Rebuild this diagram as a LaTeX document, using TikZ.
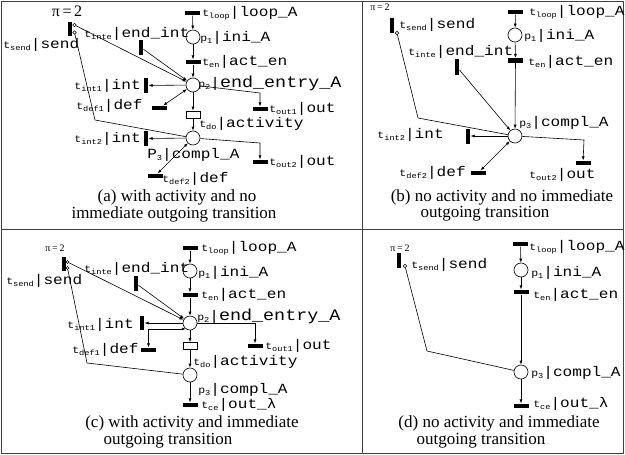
\documentclass[tikz,border=0pt]{standalone}
\usepackage{fontspec}
\setmainfont{Liberation Serif}
\newfontfamily\monofam[FakeStretch=1.15]{Liberation Mono}
\usetikzlibrary{arrows.meta}
\newcommand{\lfont}{\monofam\fontsize{14}{14}\selectfont}
\newcommand{\Lfont}{\monofam\fontsize{16}{16}\selectfont}
\newcommand{\pfont}{\monofam\fontsize{10}{10}\selectfont}
\newcommand{\sfont}{\monofam\fontsize{7.5}{7.5}\selectfont}
\newcommand{\capfont}{\fontsize{17}{19}\selectfont}
\newcommand{\tn}[2]{{\pfont t}\raisebox{-2pt}{\sfont #1}|#2}
\newcommand{\pn}[2]{{\pfont p}\raisebox{-2pt}{\sfont #1}|#2}

\begin{document}
\begin{tikzpicture}[x=1pt,y=-1pt,>={Latex[length=4pt,width=3pt]},line width=0.6pt,
  place/.style={draw,circle,minimum size=14pt,inner sep=0pt,fill=white},
  hbar/.style={fill=black,minimum width=15pt,minimum height=4.5pt,inner sep=0pt},
  vbar/.style={fill=black,minimum width=4.5pt,minimum height=15pt,inner sep=0pt},
  dobox/.style={draw,fill=white,minimum width=14pt,minimum height=7pt,inner sep=0pt},
  inh/.style={draw,circle,minimum size=3.5pt,inner sep=0pt,fill=white,line width=0.5pt},
  lab/.style={inner sep=0pt,font=\lfont},
  capline/.style={inner sep=0pt,font=\capfont},
  pibig/.style={inner sep=0pt,font=\fontsize{16}{16}\selectfont},
  pismall/.style={inner sep=0pt,font=\fontsize{10}{10}\selectfont}]
  \useasboundingbox (0,0) rectangle (625,455);
  \draw[line width=0.8pt,black!75] (1.5,1.5) rectangle (623.5,453.5)
    (362,1.5) -- (362,453.5) (1.5,229) -- (623.5,229);

  % (a)
  \node[pibig] (a-pi) at (67,11) {π\,=\,2};
  \node[vbar,minimum height=14pt] (a-tsend) at (70,29) {};
  \node[inh] (a-inh1) at (74.5,25) {};
  \node[inh] (a-inh2) at (74.5,32.5) {};
  \node[vbar] (a-tinte) at (141,47.5) {};
  \node[hbar] (a-tloop) at (192.5,13) {};
  \node[place] (a-p1) at (193,37) {};
  \node[hbar] (a-ten) at (193,62) {};
  \node[place] (a-p2) at (193,85) {};
  \node[vbar] (a-tint1) at (146,85.5) {};
  \node[hbar] (a-tdef1) at (159.5,108) {};
  \node[hbar] (a-tout1) at (260,109) {};
  \node[dobox] (a-tdo) at (193,114.5) {};
  \node[place] (a-p3) at (193,138) {};
  \node[vbar] (a-tint2) at (146,138.5) {};
  \node[hbar] (a-tout2) at (260,162) {};
  \node[hbar] (a-tdef2) at (155,176) {};
  \coordinate (a-c1) at (260,93);
  \coordinate (a-c2) at (260,143);
  \coordinate (a-c3) at (95,120);
  \node[lab,anchor=west] (a-tsend-l) at (3,45) {\tn{send}{send}};
  \node[lab,anchor=west] (a-tinte-l) at (84,34) {\tn{inte}{end\_int}};
  \node[lab,anchor=west] (a-tloop-l) at (202,13) {\tn{loop}{loop\_A}};
  \node[lab,anchor=west] (a-p1-l) at (200,38) {\pn{1}{ini\_A}};
  \node[lab,anchor=west] (a-ten-l) at (202,62) {\tn{en}{act\_en}};
  \node[lab,anchor=west] (a-p2-l) at (198,83) {\pn{2}{\Lfont end\_entry\_A}};
  \node[lab,anchor=east] (a-tint1-l) at (141,86) {\tn{int1}{int}};
  \node[lab,anchor=west] (a-tdef1-l) at (76,106) {\tn{def1}{def}};
  \node[lab,anchor=west] (a-tout1-l) at (269,109) {\tn{out1}{out}};
  \node[lab,anchor=west] (a-tdo-l) at (199,124) {\tn{do}{activity}};
  \node[lab,anchor=east] (a-tint2-l) at (141,139) {\tn{int2}{int}};
  \node[lab,anchor=west] (a-p3-l) at (147,155) {P\raisebox{-2pt}{\sfont 3}|compl\_A};
  \node[lab,anchor=west] (a-tout2-l) at (269,162) {\tn{out2}{out}};
  \node[lab,anchor=west] (a-tdef2-l) at (162,179) {\tn{def2}{def}};
  \node[capline] (a-cap1) at (177,197) {(a) with activity and no};
  \node[capline] (a-cap2) at (174,214) {immediate outgoing transition};
  \draw[->] (a-tloop) -- (a-p1);
  \draw[->] (a-p1) -- (a-ten);
  \draw[->] (a-ten) -- (a-p2);
  \draw[->] (a-inh1) -- (a-p2);
  \draw[->] (a-tinte) -- (a-p2);
  \draw[->] (a-p2) -- (a-tint1);
  \draw[<->] (a-tdef1) -- (a-p2);
  \draw[->] (a-p2) -- (a-c1) -- (a-tout1);
  \draw[->] (a-p2) -- (a-tdo);
  \draw[->] (a-tdo) -- (a-p3);
  \draw[->] (a-p3) -- (a-tint2);
  \draw[<->] (a-tdef2) -- (a-p3);
  \draw[->] (a-p3) -- (a-c2) -- (a-tout2);
  \draw (a-inh2) -- (a-c3) -- (a-p3);

  % (b)
  \node[pismall] (b-pi) at (380,7) {π\,=\,2};
  \node[vbar,minimum width=4pt] (b-tsend) at (392,25.5) {};
  \node[inh] (b-inh) at (397,33) {};
  \node[vbar,minimum height=16pt] (b-tinte) at (457,67) {};
  \node[hbar] (b-tloop) at (515.5,12) {};
  \node[place] (b-p1) at (515,35) {};
  \node[hbar] (b-ten) at (515.5,60.5) {};
  \node[place] (b-p3) at (515,136) {};
  \node[vbar] (b-tint2) at (468,136) {};
  \node[hbar] (b-tdef2) at (478,173) {};
  \node[hbar] (b-tout2) at (583,163) {};
  \coordinate (b-c1) at (584,140);
  \coordinate (b-c2) at (418,118);
  \node[lab,anchor=west] (b-tsend-l) at (399,25) {\tn{send}{send}};
  \node[lab,anchor=west] (b-tinte-l) at (408,52) {\tn{inte}{end\_int}};
  \node[lab,anchor=west] (b-tloop-l) at (529,12) {\tn{loop}{loop\_A}};
  \node[lab,anchor=west] (b-p1-l) at (524,36) {\pn{1}{ini\_A}};
  \node[lab,anchor=west] (b-ten-l) at (528,62) {\tn{en}{act\_en}};
  \node[lab,anchor=west] (b-p3-l) at (519,123) {\pn{3}{compl\_A}};
  \node[lab,anchor=east] (b-tint2-l) at (444,135) {\tn{int2}{int}};
  \node[lab,anchor=east] (b-tdef2-l) at (466,173) {\tn{def2}{def}};
  \node[lab,anchor=west] (b-tout2-l) at (529,175) {\tn{out2}{out}};
  \node[capline] (b-cap1) at (502,197) {(b) no activity and no immediate};
  \node[capline] (b-cap2) at (485,214) {outgoing transition};
  \draw[->] (b-tloop) -- (b-p1);
  \draw[->] (b-p1) -- (b-ten);
  \draw[->] (b-ten) -- (b-p3);
  \draw[->] (b-tinte) -- (b-p3);
  \draw (b-inh) -- (b-c2) -- (b-p3);
  \draw[->] (b-p3) -- (b-tint2);
  \draw[<->] (b-tdef2) -- (b-p3);
  \draw[->] (b-p3) -- (b-c1) -- (b-tout2);

  % (c)
  \node[pismall] (c-pi) at (55,248) {π\,=\,2};
  \node[vbar,minimum width=4pt,minimum height=14pt] (c-tsend) at (63.5,264) {};
  \node[inh,minimum size=3pt] (c-inh1) at (67.5,262) {};
  \node[inh,minimum size=3pt] (c-inh2) at (67.5,268) {};
  \node[vbar] (c-tinte) at (136,283.5) {};
  \node[hbar] (c-tloop) at (190,248) {};
  \node[place] (c-p1) at (190,271) {};
  \node[hbar] (c-ten) at (190,295) {};
  \node[place] (c-p2) at (190,323) {};
  \node[vbar,minimum height=14pt] (c-tint1) at (142,323) {};
  \node[hbar] (c-tdef1) at (148.5,350) {};
  \node[hbar] (c-tout1) at (255,346) {};
  \node[dobox] (c-tdo) at (190,346) {};
  \node[place] (c-p3) at (190,375) {};
  \node[hbar] (c-tce) at (190,405) {};
  \coordinate (c-c1) at (87,363);
  \node[lab,anchor=west] (c-tsend-l) at (6,281) {\tn{send}{send}};
  \node[lab,anchor=west] (c-tinte-l) at (84,269) {\tn{inte}{end\_int}};
  \node[lab,anchor=west] (c-tloop-l) at (201,248) {\tn{loop}{loop\_A}};
  \node[lab,anchor=west] (c-p1-l) at (198,273) {\pn{1}{ini\_A}};
  \node[lab,anchor=west] (c-ten-l) at (201,295) {\tn{en}{act\_en}};
  \node[lab,anchor=west] (c-p2-l) at (197,316) {\pn{2}{\Lfont end\_entry\_A}};
  \node[lab,anchor=east] (c-tint1-l) at (134,325) {\tn{int1}{int}};
  \node[lab,anchor=west] (c-tdef1-l) at (72,350) {\tn{def1}{def}};
  \node[lab,anchor=west] (c-tout1-l) at (265,346) {\tn{out1}{out}};
  \node[lab,anchor=west] (c-tdo-l) at (193,362) {\tn{do}{activity}};
  \node[lab,anchor=west] (c-p3-l) at (198,390) {\pn{3}{compl\_A}};
  \node[lab,anchor=west] (c-tce-l) at (201,405) {\tn{ce}{out\_λ}};
  \node[capline] (c-cap1) at (192,423) {(c) with activity and immediate};
  \node[capline] (c-cap2) at (168,441) {outgoing transition};
  \draw[->] (c-tloop) -- (c-p1);
  \draw[->] (c-p1) -- (c-ten);
  \draw[->] (c-ten) -- (c-p2);
  \draw[->] (c-inh1) -- (c-p2);
  \draw[->] (c-tinte) -- (c-p2);
  \draw[->] (c-p2) -- (c-tint1);
  \draw[<->] (c-tdef1) |- (c-p2.235);
  \draw[->] (c-p2) -| (c-tout1);
  \draw[->] (c-p2) -- (c-tdo);
  \draw[->] (c-tdo) -- (c-p3);
  \draw[->] (c-p3) -- (c-tce);
  \draw (c-inh2) -- (c-c1) -- (c-p3);

  % (d)
  \node[pismall] (d-pi) at (400,248) {π\,=\,2};
  \node[vbar,minimum width=4pt] (d-tsend) at (399,260.5) {};
  \node[inh] (d-inh) at (405,266) {};
  \node[hbar] (d-tloop) at (520.5,244) {};
  \node[place] (d-p1) at (521,270) {};
  \node[hbar] (d-ten) at (521,292) {};
  \node[place] (d-p3) at (521,372) {};
  \node[hbar] (d-tce) at (521,406) {};
  \coordinate (d-c1) at (427,351);
  \node[lab,anchor=west] (d-tsend-l) at (411,265) {\tn{send}{send}};
  \node[lab,anchor=west] (d-tloop-l) at (529,247) {\tn{loop}{loop\_A}};
  \node[lab,anchor=west] (d-p1-l) at (531,273) {\pn{1}{ini\_A}};
  \node[lab,anchor=west] (d-ten-l) at (533,295) {\tn{en}{act\_en}};
  \node[lab,anchor=west] (d-p3-l) at (531,373) {\pn{3}{compl\_A}};
  \node[lab,anchor=west] (d-tce-l) at (533,404) {\tn{ce}{out\_λ}};
  \node[capline] (d-cap1) at (499,423) {(d) no activity and immediate};
  \node[capline] (d-cap2) at (481,441) {outgoing transition};
  \draw[->] (d-tloop) -- (d-p1);
  \draw[->] (d-p1) -- (d-ten);
  \draw[->] (d-ten) -- (d-p3);
  \draw[->] (d-p3) -- (d-tce);
  \draw (d-inh) -- (d-c1) -- (d-p3);
\end{tikzpicture}
\end{document}
